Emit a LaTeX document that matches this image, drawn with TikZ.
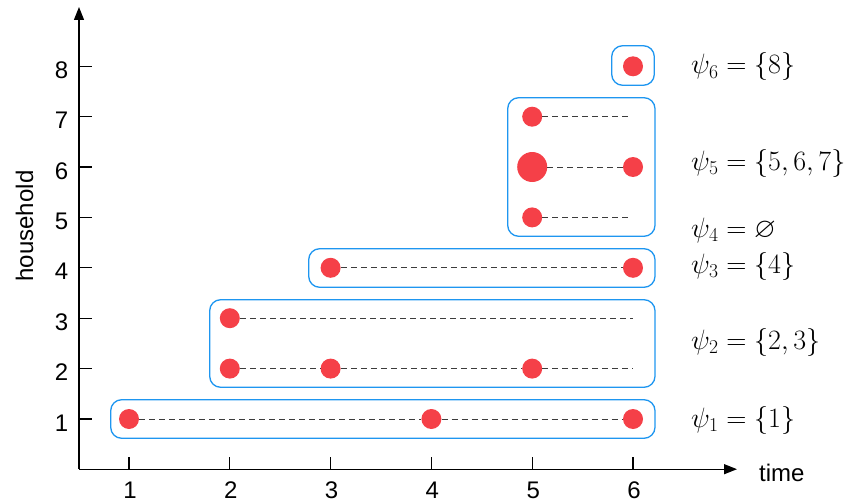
\RequirePackage{fix-cm}
\documentclass[tikz,border=0pt]{standalone}
\usepackage{amssymb}
\usepackage{fontspec}
\setsansfont{Liberation Sans}
\usetikzlibrary{arrows.meta}
\definecolor{dotred}{RGB}{245,64,72}
\definecolor{boxblue}{RGB}{30,150,240}
\definecolor{dashgrey}{RGB}{60,60,60}
\begin{document}
\begin{tikzpicture}[x=1pt,y=-1pt,
  dot/.style={circle,fill=dotred,inner sep=0pt,minimum size=20pt},
  bigdot/.style={dot,minimum size=30pt},
  link/.style={draw=dashgrey,line width=1pt,dash pattern=on 6pt off 4pt},
  groupbox/.style={draw=boxblue,line width=1.3pt,rounded corners=11pt},
  axisline/.style={line width=1.3pt,-{Triangle[length=13pt,width=10pt]}},
  tickmark/.style={line width=1.3pt},
  axlab/.style={font=\sffamily\fontsize{24}{28}\selectfont,inner sep=0pt},
  setlab/.style={font=\fontsize{28}{32}\selectfont,anchor=base west,inner sep=0pt}
]
\useasboundingbox (0,0) rectangle (849,503);

% axes
\coordinate (O) at (79,469.2);
\coordinate (ytop) at (79,7);
\coordinate (xend) at (737,469.2);
\draw[axisline] (O) -- (ytop);
\draw[axisline] (O) -- (xend);

% x ticks
\foreach \t/\x in {1/129,2/229.8,3/330.6,4/431.4,5/532.2,6/633}{
  \coordinate (xt\t) at (\x,469.2);
  \coordinate (xu\t) at (\x,457);
  \draw[tickmark] (xt\t) -- (xu\t);
  \node[axlab,anchor=base] (xl\t) at (\x+1,498.5) {\t};
}
% y ticks
\foreach \k/\y in {1/419,2/368.6,3/318.2,4/267.8,5/217.4,6/167,7/116.7,8/66.3}{
  \coordinate (yt\k) at (79,\y);
  \coordinate (yr\k) at (92,\y);
  \draw[tickmark] (yt\k) -- (yr\k);
  \node[axlab,anchor=base east] (yl\k) at (68.5,\y+12) {\k};
}
\node[axlab,anchor=base west] (timelab) at (759,481) {time};
\node[axlab,anchor=base,rotate=90] (hhlab) at (33,226) {household};

% group boxes
\draw[groupbox] (110.7,399.7) rectangle (655,438.3);
\draw[groupbox] (209.7,299.7) rectangle (655,387.3);
\draw[groupbox] (308.7,248.7) rectangle (655,287.3);
\draw[groupbox] (507.7,97.7) rectangle (655,236.3);
\draw[groupbox] (611.7,45.7) rectangle (654.3,85.3);

% dots
\node[dot] (d11) at (129,419) {};
\node[dot] (d14) at (431.4,419) {};
\node[dot] (d16) at (633,419) {};
\node[dot] (d22) at (229.8,368.6) {};
\node[dot] (d23) at (330.6,368.6) {};
\node[dot] (d25) at (532.2,368.6) {};
\coordinate (e2) at (633,368.6);
\node[dot] (d32) at (229.8,318.2) {};
\coordinate (e3) at (633,318.2);
\node[dot] (d43) at (330.6,267.8) {};
\node[dot] (d46) at (633,267.8) {};
\node[dot] (d55) at (532.2,217.4) {};
\coordinate (e5) at (629,217.4);
\node[bigdot] (d65) at (532.2,167) {};
\node[dot] (d66) at (633,167) {};
\node[dot] (d75) at (532.2,116.7) {};
\coordinate (e7) at (629,116.7);
\node[dot] (d86) at (633,66.3) {};

% dashed links
\draw[link] (d11) -- (d14);
\draw[link] (d14) -- (d16);
\draw[link] (d22) -- (d23);
\draw[link] (d23) -- (d25);
\draw[link] (d25) -- (e2);
\draw[link] (d32) -- (e3);
\draw[link] (d43) -- (d46);
\draw[link] (d55) -- (e5);
\draw[link] (d65) -- (d66);
\draw[link] (d75) -- (e7);

% set labels
\node[setlab] (p6) at (691,74) {$\psi_6=\{8\}$};
\node[setlab] (p5) at (691,170) {$\psi_5=\{5,6,7\}$};
\node[setlab] (p4) at (691,237) {$\psi_4=\varnothing$};
\node[setlab] (p3) at (691,273) {$\psi_3=\{4\}$};
\node[setlab] (p2) at (691,349) {$\psi_2=\{2,3\}$};
\node[setlab] (p1) at (691,427) {$\psi_1=\{1\}$};
\end{tikzpicture}
\end{document}
